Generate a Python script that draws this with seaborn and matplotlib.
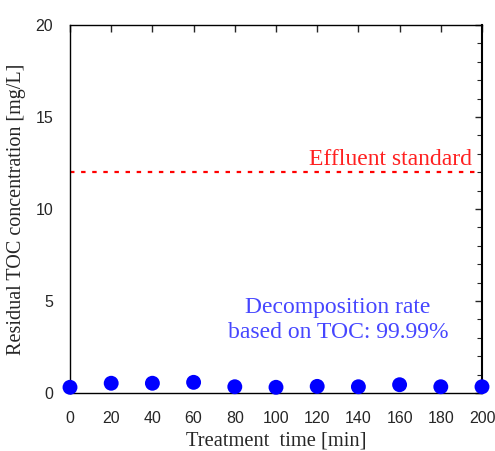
import numpy as np
import pandas as pd
import matplotlib
matplotlib.use('Agg')
import matplotlib.pyplot as plt
import seaborn as sns

# Values
time_min = [0, 20, 40, 60, 80, 100, 120, 140, 160, 180, 200]
toc_mg_l = [0.31, 0.53, 0.53, 0.58, 0.34, 0.31, 0.36, 0.34, 0.45, 0.34, 0.34]
effluent_standard = 12
x_ticks = [0, 20, 40, 60, 80, 100, 120, 140, 160, 180, 200]
y_ticks = [0, 5, 10, 15, 20]

sns.set_style('white')
plt.rcParams['font.family'] = ['Liberation Sans', 'DejaVu Sans']
serif = ['Liberation Serif', 'DejaVu Serif']

df = pd.DataFrame({'time': time_min, 'toc': toc_mg_l})

fig = plt.figure(figsize=(4.95, 4.51), dpi=100)
ax = fig.add_axes([70 / 495, 1 - 393 / 451, 412 / 495, 368 / 451])

sns.scatterplot(data=df, x='time', y='toc', ax=ax, color='#0000FF',
                s=115, edgecolor='none', clip_on=False, zorder=5)
ax.axhline(effluent_standard, color='#FF0000', linestyle=(0, (2, 3)), linewidth=1.6)

ax.set_xlim(0, 200)
ax.set_ylim(0, 20)
ax.set_xticks(x_ticks)
ax.set_yticks(y_ticks)
ax.set_yticks(np.arange(0, 21, 1), minor=True)
ax.tick_params(axis='both', which='both', direction='in', top=True, right=True,
               labelsize=11.5)
ax.tick_params(axis='x', which='major', pad=13)
ax.tick_params(axis='y', which='major', pad=12)
ax.tick_params(axis='both', which='major', length=5, width=1)
ax.tick_params(axis='y', which='minor', length=3.5, width=0.8)
for sp in ax.spines.values():
    sp.set_linewidth(1.0)
    sp.set_color('black')
ax.spines['right'].set_linewidth(1.5)

ax.set_xlabel('Treatment  time [min]', family=serif, fontsize=14.8, labelpad=4)
ax.set_ylabel('Residual TOC concentration [mg/L]', family=serif, fontsize=14.5, labelpad=7)

ax.text(195, 12.4, 'Effluent standard', family=serif, fontsize=17,
        color='#FF2020', ha='right', va='baseline')
ax.text(130, 3.97, 'Decomposition rate\nbased on TOC: 99.99%', family=serif,
        fontsize=17, color='#4646FF', ha='center', va='center', linespacing=1.2)

fig.savefig('out.png', dpi=100)
